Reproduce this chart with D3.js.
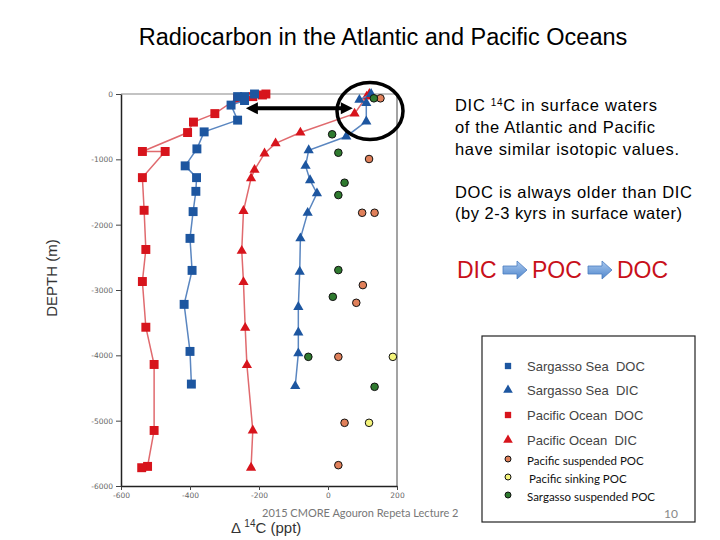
<!DOCTYPE html>
<html>
<head>
<meta charset="utf-8">
<script src="https://cdn.jsdelivr.net/npm/d3@7"></script>
<style>
  body { margin: 0; background: #fff; }
  svg { display: block; }
</style>
</head>
<body>
<script>
// values (depth in m, negative down; delta 14C in ppt)
const pacDocDepth = [0, -15, -40, -65, -300, -430, -590, -880, -880, -1280, -1780, -2380, -2870, -3570, -4140, -5150, -5700, -5720];
const pacDocVal   = [-180, -190, -218, -262, -328, -390, -407, -538, -472, -538, -533, -528, -538, -528, -504, -504, -523, -540];

const sarDocDepth = [0, -40, -40, -100, -170, -400, -580, -840, -1100, -1280, -1490, -1800, -2210, -2700, -3220, -3940, -4440];
const sarDocVal   = [-213, -242, -262, -242, -281, -262, -359, -380, -414, -381, -383, -391, -400, -394, -417, -400, -396];

const pacDicDepth = [0, -40, -300, -590, -755, -910, -1160, -1290, -1790, -2400, -2880, -3580, -4150, -5150, -5720];
const pacDicVal   = [120, 112, 77, -80, -152, -184, -213, -223, -245, -250, -245, -240, -235, -218, -223];

const sarDicDepth = [0, -90, -140, -420, -650, -860, -1100, -1320, -1520, -1820, -2210, -2720, -3260, -3650, -3970, -4470];
const sarDicVal   = [125, 91, 111, 111, 53, -56, -65, -52, -32, -59, -80, -82, -86, -86, -86, -95];

const pacSuspDepth = [-66, -995, -1818, -1818, -2925, -3196, -4023, -5033, -5681];
const pacSuspVal   = [152, 119, 99, 135, 101, 82, 30, 48, 30];

const pacSinkDepth = [-4023, -5033];
const pacSinkVal   = [188, 119];

const sarSuspDepth = [-66, -617, -899, -1358, -1547, -2695, -3104, -4023, -4482];
const sarSuspVal   = [133, 12, 30, 48, 30, 30, 14, -57, 135];

const xTicks = [-600, -400, -200, 0, 200];
const yTicks = [0, -1000, -2000, -3000, -4000, -5000, -6000];

const legendLabels = ["Sargasso Sea  DOC", "Sargasso Sea  DIC", "Pacific Ocean  DOC", "Pacific Ocean  DIC",
                      "Pacific suspended POC", "Pacific sinking POC", "Sargasso suspended POC"];

const red = "#d7141c", blue = "#1d56a0";

const svg = d3.select("body").append("svg")
    .attr("width", 720)
    .attr("height", 540);

// title
svg.append("text")
    .attr("x", 383).attr("y", 45)
    .attr("text-anchor", "middle")
    .style("font-family", "Liberation Sans, Arial, sans-serif")
    .style("font-size", "23.5px")
    .text("Radiocarbon in the Atlantic and Pacific Oceans");

// scales
const x = d3.scaleLinear().domain([-600, 200]).range([121, 397]);
const y = d3.scaleLinear().domain([0, -6000]).range([94, 486]);

// frame (top and right in gray)
svg.append("line").attr("x1", x(-600)).attr("x2", x(200)).attr("y1", y(0)).attr("y2", y(0))
    .style("stroke", "#888").style("stroke-width", 1.2);
svg.append("line").attr("x1", x(200)).attr("x2", x(200)).attr("y1", y(0)).attr("y2", y(-6000))
    .style("stroke", "#666").style("stroke-width", 1.2);

// axes
const xAxis = svg.append("g")
    .attr("transform", "translate(0," + y(-6000) + ")")
    .call(d3.axisBottom(x).tickValues(xTicks).tickSize(4).tickSizeOuter(0).tickFormat(d => String(d)));
const yAxis = svg.append("g")
    .attr("transform", "translate(" + x(-600) + ",0)")
    .call(d3.axisLeft(y).tickValues(yTicks).tickSize(5).tickSizeOuter(0).tickFormat(d => String(d)));

[xAxis, yAxis].forEach(function (a) {
    a.select(".domain").style("stroke", "#222").style("stroke-width", 1.5);
    a.selectAll(".tick line").style("stroke", "#444");
    a.selectAll(".tick text")
        .style("font-family", "DejaVu Sans, sans-serif")
        .style("font-size", "7.5px")
        .style("fill", "#666");
});
yAxis.selectAll(".tick text").attr("x", -8);

// axis labels
svg.append("text")
    .attr("transform", "translate(57,278) rotate(-90)")
    .attr("text-anchor", "middle")
    .style("font-family", "Liberation Sans, Arial, sans-serif")
    .style("font-size", "15px")
    .style("fill", "#333")
    .text("DEPTH (m)");

const xl = svg.append("text")
    .attr("x", 231).attr("y", 533)
    .style("font-family", "Liberation Sans, Arial, sans-serif")
    .style("font-size", "15px")
    .style("fill", "#333");
xl.append("tspan").text("\u0394 ");
xl.append("tspan").attr("dy", -6).style("font-size", "10px").text("14");
xl.append("tspan").attr("dy", 6).text("C (ppt)");

// profiles
function profile(depths, vals, color, lineColor, shape, size) {
    const pts = depths.map((d, i) => [vals[i], d]);
    svg.append("path")
        .datum(pts)
        .attr("d", d3.line().x(p => x(p[0])).y(p => y(p[1])))
        .style("fill", "none")
        .style("stroke", lineColor)
        .style("stroke-width", 1.5);
    svg.selectAll(null)
        .data(pts)
        .enter()
        .append("path")
        .attr("transform", p => "translate(" + x(p[0]) + "," + y(p[1]) + ")")
        .attr("d", d3.symbol().type(shape).size(size))
        .style("fill", color);
}

profile(pacDocDepth, pacDocVal, red, "#e06a6e", d3.symbolSquare, 80);
profile(pacDicDepth, pacDicVal, red, "#e06a6e", d3.symbolTriangle, 45);
profile(sarDocDepth, sarDocVal, blue, "#5a86c0", d3.symbolSquare, 80);
profile(sarDicDepth, sarDicVal, blue, "#5a86c0", d3.symbolTriangle, 45);

// POC points
function dots(depths, vals, color) {
    svg.selectAll(null)
        .data(depths.map((d, i) => [vals[i], d]))
        .enter()
        .append("circle")
        .attr("cx", p => x(p[0]))
        .attr("cy", p => y(p[1]))
        .attr("r", 3.8)
        .style("fill", color)
        .style("stroke", "#111")
        .style("stroke-width", 1);
}
dots(pacSuspDepth, pacSuspVal, "#e0805a");
dots(pacSinkDepth, pacSinkVal, "#f4f47a");
dots(sarSuspDepth, sarSuspVal, "#2f7a2f");

// annotation: ellipse round surface DIC and double arrow
svg.append("ellipse")
    .attr("cx", 370).attr("cy", 111).attr("rx", 33).attr("ry", 28.5)
    .style("fill", "none")
    .style("stroke", "#000")
    .style("stroke-width", 3.5);

const ay = y(-220), ax1 = x(-238), ax2 = x(72);
svg.append("line").attr("x1", ax1 + 8).attr("x2", ax2 - 8).attr("y1", ay).attr("y2", ay)
    .style("stroke", "#000").style("stroke-width", 4);
svg.append("path")
    .attr("d", "M" + ax1 + "," + ay + "l12,-6l0,12z")
    .style("fill", "#000");
svg.append("path")
    .attr("d", "M" + ax2 + "," + ay + "l-12,-6l0,12z")
    .style("fill", "#000");

// right-hand notes
const note = svg.append("g")
    .style("font-family", "Liberation Sans, Arial, sans-serif")
    .style("font-size", "16.5px")
    .style("fill", "#000");
const l1 = note.append("text").attr("x", 455).attr("y", 111)
    .attr("textLength", 202).attr("lengthAdjust", "spacing");
l1.append("tspan").text("DIC ");
l1.append("tspan").attr("dy", -5).style("font-size", "10px").text("14");
l1.append("tspan").attr("dy", 5).text("C in surface waters");
const noteLines = ["of the Atlantic and Pacific", "have similar isotopic values.",
                   "DOC is always older than DIC", "(by 2-3 kyrs in surface water)"];
const noteY = [133, 155, 198, 219], noteW = [200, 224, 237, 227];
note.selectAll(null)
    .data(noteLines)
    .enter()
    .append("text")
    .attr("x", 455)
    .attr("y", (d, i) => noteY[i])
    .attr("textLength", (d, i) => noteW[i])
    .attr("lengthAdjust", "spacing")
    .text(d => d);

const flow = ["DIC", "POC", "DOC"], flowX = [457, 532, 617];
svg.selectAll(".flow")
    .data(flow)
    .enter()
    .append("text")
    .attr("class", "flow")
    .attr("x", (d, i) => flowX[i])
    .attr("y", 278)
    .style("font-family", "Liberation Sans, Arial, sans-serif")
    .style("font-size", "23px")
    .style("fill", "#c8101a")
    .text(d => d);

const grad = svg.append("defs").append("linearGradient")
    .attr("id", "arrowGrad").attr("x1", 0).attr("y1", 0).attr("x2", 0).attr("y2", 1);
grad.append("stop").attr("offset", "0%").attr("stop-color", "#a9c8ee");
grad.append("stop").attr("offset", "100%").attr("stop-color", "#4f86cc");
[503, 588].forEach(function (ax) {
    svg.append("path")
        .attr("d", "M" + ax + ",266h14v-5l10,9l-10,9v-5h-14z")
        .style("fill", "url(#arrowGrad)")
        .style("stroke", "#4a7bbf")
        .style("stroke-width", 0.8);
});

// legend
svg.append("rect")
    .attr("x", 482).attr("y", 336).attr("width", 213).attr("height", 186)
    .style("fill", "#fff").style("stroke", "#222").style("stroke-width", 1.2);

const legY = [367, 391, 416, 441, 462, 480, 498];
const legShape = [
    {t: "sym", s: d3.symbolSquare, c: blue},
    {t: "sym", s: d3.symbolTriangle, c: blue},
    {t: "sym", s: d3.symbolSquare, c: red},
    {t: "sym", s: d3.symbolTriangle, c: red},
    {t: "dot", c: "#e0805a"},
    {t: "dot", c: "#f4f47a"},
    {t: "dot", c: "#2f7a2f"}
];
legShape.forEach(function (m, i) {
    if (m.t === "sym") {
        svg.append("path")
            .attr("transform", "translate(508," + (legY[i] - 1) + ")")
            .attr("d", d3.symbol().type(m.s).size(40))
            .style("fill", m.c);
    } else {
        svg.append("circle")
            .attr("cx", 508).attr("cy", legY[i] - 3).attr("r", 3)
            .style("fill", m.c).style("stroke", "#111").style("stroke-width", 1);
    }
});
svg.selectAll(".leg")
    .data(legendLabels)
    .enter()
    .append("text")
    .attr("class", "leg")
    .attr("x", (d, i) => i === 5 ? 529 : 527)
    .attr("y", (d, i) => legY[i] + (i < 4 ? 4 : 3))
    .attr("xml:space", "preserve")
    .style("white-space", "pre")
    .style("font-family", (d, i) => i < 4 ? "Liberation Sans, Arial, sans-serif" : "Lato, sans-serif")
    .style("font-size", (d, i) => i < 4 ? "13px" : "11.5px")
    .style("font-weight", 400)
    .style("fill", (d, i) => i < 4 ? "#444" : "#111")
    .text(d => d);

// footer
svg.append("text")
    .attr("x", 262).attr("y", 517)
    .style("font-family", "Lato, sans-serif")
    .style("font-size", "11px")
    .style("fill", "#777")
    .text("2015 CMORE Agouron Repeta Lecture 2");
svg.append("text")
    .attr("x", 664).attr("y", 518)
    .style("font-family", "Lato, sans-serif")
    .style("font-size", "12px")
    .style("fill", "#888")
    .text("10");
</script>
</body>
</html>
